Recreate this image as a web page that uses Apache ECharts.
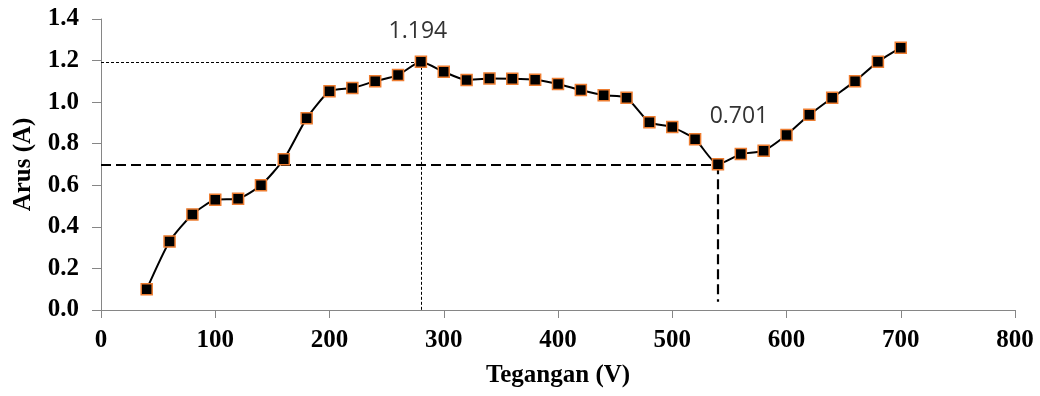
<!DOCTYPE html>
<html>
<head>
<meta charset="utf-8">
<script src="https://cdn.jsdelivr.net/npm/echarts@6/dist/echarts.min.js"></script>
<style>
  html, body { margin: 0; padding: 0; background: #fff; }
  #chart { width: 1040px; height: 396px; }
</style>
</head>
<body>
<div id="chart"></div>
<script>
const voltage = [40, 60, 80, 100, 120, 140, 160, 180, 200, 220, 240, 260, 280, 300, 320, 340, 360, 380,
  400, 420, 440, 460, 480, 500, 520, 540, 560, 580, 600, 620, 640, 660, 680, 700];
const current = [0.10, 0.33, 0.46, 0.53, 0.535, 0.60, 0.725, 0.922, 1.052, 1.068, 1.101, 1.130, 1.194, 1.146,
  1.106, 1.114, 1.113, 1.108, 1.087, 1.058, 1.033, 1.021, 0.903, 0.880, 0.822, 0.701, 0.750, 0.766,
  0.842, 0.939, 1.021, 1.101, 1.194, 1.262];
const peak = [280, 1.194];
const valley = [540, 0.701];

const axisFont = { fontFamily: 'Liberation Serif', fontWeight: 'bold', fontSize: 25, color: '#000' };

const chart = echarts.init(document.getElementById('chart'));
chart.setOption({
  animation: false,
  grid: { left: 101, right: 25, top: 19, bottom: 86 },
  xAxis: {
    type: 'value',
    min: 0,
    max: 800,
    interval: 100,
    name: 'Tegangan (V)',
    nameLocation: 'middle',
    nameGap: 53,
    nameTextStyle: axisFont,
    axisLine: { show: true, lineStyle: { color: '#868686', width: 1 } },
    axisTick: { show: true, length: 8, lineStyle: { color: '#868686' } },
    axisLabel: Object.assign({ margin: 18 }, axisFont),
    splitLine: { show: false },
  },
  yAxis: {
    type: 'value',
    min: 0,
    max: 1.4,
    interval: 0.2,
    name: 'Arus (A)',
    nameLocation: 'middle',
    nameGap: 65,
    nameTextStyle: axisFont,
    axisLine: { show: true, lineStyle: { color: '#868686', width: 1 } },
    axisTick: { show: true, length: 9, lineStyle: { color: '#868686' } },
    axisLabel: Object.assign({ margin: 22, formatter: (v) => v.toFixed(1) }, axisFont),
    splitLine: { show: false },
  },
  series: [
    {
      type: 'line',
      data: voltage.map((v, i) => [v, current[i]]),
      smooth: 0.2,
      symbol: 'rect',
      symbolSize: 11,
      itemStyle: { color: '#000', borderColor: '#ED7D31', borderWidth: 1.5 },
      lineStyle: { color: '#000', width: 2 },
      z: 5,
      markLine: {
        silent: true,
        symbol: 'none',
        label: { show: false },
        data: [
          [{ coord: [0, peak[1]], lineStyle: { type: [3, 2], width: 1, color: '#000' } }, { coord: [peak[0], peak[1]] }],
          [{ coord: [peak[0], peak[1]], lineStyle: { type: [3, 2], width: 1, color: '#000' } }, { coord: [peak[0], 0] }],
          [{ coord: [0, valley[1]], lineStyle: { type: [10, 5], width: 2.2, color: '#000' } }, { coord: [valley[0], valley[1]] }],
          [{ coord: [valley[0], valley[1]], lineStyle: { type: [10, 5], width: 2.2, color: '#000' } }, { coord: [valley[0], 0.04] }],
        ],
      },
      markPoint: {
        silent: true,
        symbol: 'circle',
        symbolSize: 0,
        label: { show: true, fontFamily: 'Open Sans', fontSize: 23, color: '#333' },
        data: [
          { coord: peak, value: peak[1].toFixed(3), label: { position: 'top', offset: [-3, -14] } },
          { coord: valley, value: valley[1].toFixed(3), label: { position: 'top', offset: [21, -31] } },
        ],
      },
    },
  ],
});
</script>
</body>
</html>
